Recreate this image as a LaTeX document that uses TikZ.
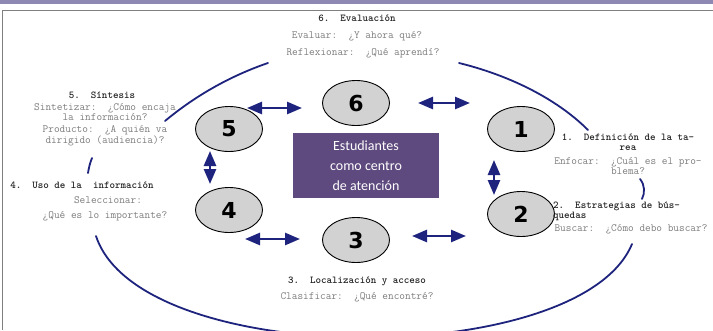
\documentclass[tikz,border=0pt]{standalone}
\usepackage{fontspec}
\newfontfamily\numfont{DejaVu Sans}
\newfontfamily\boxfont{Carlito}
\usetikzlibrary{arrows.meta,shapes.geometric}
\definecolor{navy}{RGB}{30,36,125}
\definecolor{boxpurple}{RGB}{94,74,126}
\definecolor{band}{RGB}{142,136,180}
\definecolor{subgray}{RGB}{125,125,125}
\definecolor{titlegray}{RGB}{35,35,35}
\definecolor{circfill}{RGB}{210,210,210}
\tikzset{
  stepcircle/.style={ellipse, draw=black, line width=0.9pt, fill=circfill,
    minimum width=67pt, minimum height=45pt, inner sep=0pt,
    font=\numfont\bfseries\fontsize{22}{22}\selectfont},
  ttitle/.style={font=\ttfamily\bfseries\fontsize{10.5}{10}\selectfont, text=titlegray, inner sep=0pt, align=center},
  tsub/.style={font=\ttfamily\fontsize{11}{10}\selectfont, text=subgray, inner sep=0pt, align=center},
  dblarrow/.style={draw=navy, line width=2.6pt,
    {Triangle[length=15pt,width=12pt]}-{Triangle[length=15pt,width=12pt]}},
  bigarc/.style={draw=navy, line width=1.8pt, line cap=round}
}
\begin{document}
\begin{tikzpicture}[x=1pt,y=-1pt]
\useasboundingbox (0,0) rectangle (713,330);
\fill[white] (0,0) rectangle (713,330);
% top band and frame
\fill[band] (0,0) rectangle (713,3.5);
\draw[gray, line width=1.6pt] (2.5,330) -- (2.5,10.5) -- (713,10.5);

% center box
\node[fill=boxpurple, minimum width=146pt, minimum height=65pt, inner sep=0pt,
      text=white, align=center, font=\boxfont\fontsize{14}{20}\selectfont]
  (center) at (366,165.5) {Estudiantes\\como centro\\de atención};

% step circles
\node[stepcircle] (c6) at (356,103) {6};
\node[stepcircle] (c5) at (229,129) {5};
\node[stepcircle] (c1) at (521,129) {1};
\node[stepcircle] (c4) at (229,210) {4};
\node[stepcircle] (c2) at (521,214) {2};
\node[stepcircle] (c3) at (356,240) {3};

% double arrows
\coordinate (a56s) at (247,108); \coordinate (a56e) at (302,108);
\coordinate (a61s) at (418,103); \coordinate (a61e) at (470,103);
\coordinate (a54s) at (210,151); \coordinate (a54e) at (210,184);
\coordinate (a12s) at (494,160); \coordinate (a12e) at (494,195);
\coordinate (a43s) at (245,239); \coordinate (a43e) at (300,239);
\coordinate (a32s) at (412,236); \coordinate (a32e) at (466,236);
\draw[dblarrow] (a56s) -- (a56e);
\draw[dblarrow] (a61s) -- (a61e);
\draw[dblarrow] (a54s) -- (a54e);
\draw[dblarrow] (a12s) -- (a12e);
\draw[dblarrow] (a43s) -- (a43e);
\draw[dblarrow] (a32s) -- (a32e);

% big cycle arcs
\draw[bigarc] (165,121) .. controls (195,96) and (230,76) .. (268,63);
\draw[bigarc] (459,63) .. controls (508,75) and (556,98) .. (588,130);
\draw[bigarc] (88,173) .. controls (89,167) and (90,163) .. (92,158);
\draw[bigarc] (640,179) .. controls (645,185) and (645,193) .. (642,199);
\draw[bigarc] (96,236) .. controls (140,370) and (580,370) .. (632,244);

% texts
\node[ttitle] (t6) at (357,18) {6.\ \ Evaluación};
\node[tsub] (s6a) at (357,36) {Evaluar:\ \ ¿Y ahora qué?};
\node[tsub] (s6b) at (363,53) {Reflexionar:\ \ ¿Qué aprendí?};

\node[ttitle] (t5) at (102,95) {5.\ \ Síntesis};
\node[tsub] (s5a) at (105,112.5) {Sintetizar:\ \ ¿Cómo encaja\\la información?};
\node[tsub] (s5b) at (105,135.5) {Producto:\ \ ¿A quién va\\dirigido (audiencia)?};

\node[ttitle] (t4) at (82,185) {4.\ \ Uso de la\ \ información};
\node[tsub] (s4a) at (108,200) {Seleccionar:};
\node[tsub] (s4b) at (105,216) {¿Qué es lo importante?};

\node[ttitle] (t1) at (628,142) {1.\ \ Definición de la ta-\\rea};
\node[tsub] (s1) at (628,166) {Enfocar:\ \ ¿Cuál es el pro-\\blema?};

\node[ttitle, align=left, anchor=west] (t2) at (553,211) {2.\ \ Estrategias de bús-\\quedas};
\node[tsub] (s2) at (631,229.5) {Buscar:\ \ ¿Cómo debo buscar?};

\node[ttitle] (t3) at (357,281) {3.\ \ Localización y acceso};
\node[tsub] (s3) at (357,297) {Clasificar:\ \ ¿Qué encontré?};
\end{tikzpicture}
\end{document}
